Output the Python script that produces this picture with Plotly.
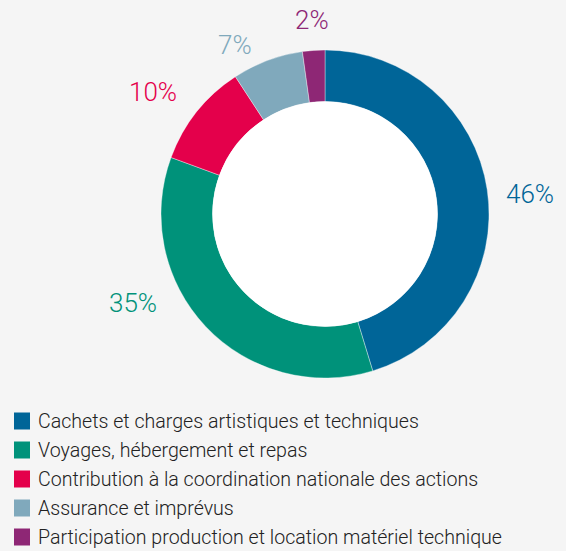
import plotly.graph_objects as go

categories = [
    "Cachets et charges artistiques et techniques",
    "Voyages, hébergement et repas",
    "Contribution à la coordination nationale des actions",
    "Assurance et imprévus",
    "Participation production et location matériel technique",
]
# slice sizes as drawn (angles)
values = [45.3, 35.3, 10.2, 7.0, 2.2]
# printed labels
pct_labels = ["46%", "35%", "10%", "7%", "2%"]

colors = ["#006598", "#00927a", "#e4004b", "#80a9bc", "#8e2775"]

W, H = 566, 551
CX, CY, R, RI = 325, 214, 164, 112.5

dom_x = [(CX - R) / W, (CX + R) / W]
dom_y = [(H - CY - R) / H, (H - CY + R) / H]

fig = go.Figure()
fig.add_trace(go.Pie(
    labels=categories,
    values=values,
    sort=False,
    direction="clockwise",
    rotation=0,
    hole=RI / R,
    marker=dict(colors=colors, line=dict(color="rgba(255,255,255,0.6)", width=0.6)),
    textinfo="none",
    hoverinfo="label",
    domain=dict(x=dom_x, y=dom_y),
    showlegend=False,
))

# white centre
fig.add_shape(type="circle", xref="paper", yref="paper",
              x0=(CX - RI) / W, x1=(CX + RI) / W,
              y0=(H - CY - RI) / H, y1=(H - CY + RI) / H,
              fillcolor="white", line=dict(width=0), layer="above")

# percentage labels (pixel positions)
label_pos = [(530, 194), (133, 303), (153, 92), (235, 45), (312, 20)]
for txt, c, (px, py) in zip(pct_labels, colors, label_pos):
    fig.add_annotation(x=px / W, y=1 - py / H, xref="paper", yref="paper",
                       text=txt, showarrow=False,
                       font=dict(family="Roboto", size=26, color=c, weight=300),
                       xanchor="center", yanchor="middle")

# custom legend
LEG_X0, LEG_Y0, LEG_DY, SQ = 14, 421, 29, 16
for i, (cat, c) in enumerate(zip(categories, colors)):
    yc = LEG_Y0 + i * LEG_DY
    fig.add_shape(type="rect", xref="paper", yref="paper",
                  x0=LEG_X0 / W, x1=(LEG_X0 + SQ) / W,
                  y0=1 - (yc + 8.5) / H, y1=1 - (yc - 8.5) / H,
                  fillcolor=c, line=dict(width=0))
    fig.add_annotation(x=(LEG_X0 + SQ + 6) / W, y=1 - yc / H,
                       xref="paper", yref="paper", text=cat, showarrow=False,
                       font=dict(family="Roboto", size=19.6, color="#222222", weight=300),
                       xanchor="left", yanchor="middle")

fig.update_layout(
    width=W, height=H,
    margin=dict(l=0, r=0, t=0, b=0),
    paper_bgcolor="#f5f5f5",
    showlegend=False,
)

fig.write_html("out.html",
               config={"displayModeBar": False},
               post_script="document.body.style.margin='0';document.body.style.overflow='hidden';")
